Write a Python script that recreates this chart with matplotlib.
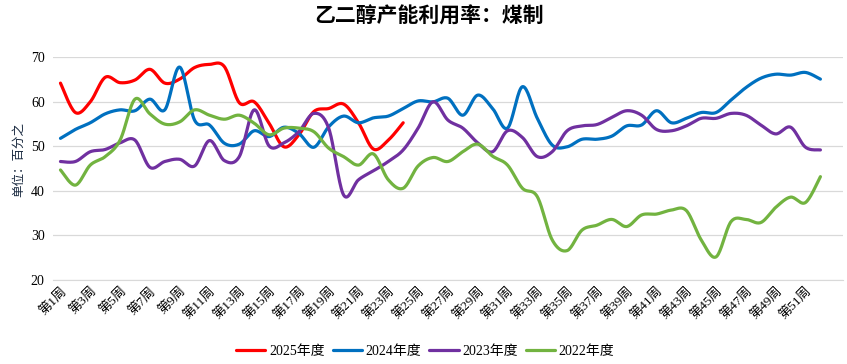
import matplotlib
matplotlib.use("Agg")
import matplotlib.pyplot as plt
import numpy as np

plt.rcParams['font.family'] = ['Liberation Serif', 'Noto Sans CJK SC']

weeks = list(range(1, 53))
week_labels = ['第%d周' % w for w in weeks]

y2025 = [64.2, 57.6, 60.0, 65.5, 64.3, 64.9, 67.3, 64.2, 65.1, 67.7, 68.4, 67.9,
         59.8, 60.0, 55.2, 49.9, 52.6, 57.8, 58.5, 59.5, 55.3, 49.4, 51.4, 55.3]
y2024 = [51.8, 53.8, 55.3, 57.3, 58.2, 58.0, 60.6, 58.2, 67.8, 55.9, 54.8, 50.7,
         50.5, 53.5, 52.2, 54.3, 52.9, 49.8, 54.4, 56.8, 55.3, 56.4, 56.8, 58.5,
         60.2, 60.0, 60.8, 57.0, 61.5, 58.5, 54.1, 63.4, 56.3, 50.3, 49.9, 51.6,
         51.6, 52.3, 54.6, 54.8, 58.0, 55.3, 56.3, 57.6, 57.6, 60.4, 63.2, 65.3,
         66.2, 66.0, 66.6, 65.1]
y2023 = [46.6, 46.6, 48.8, 49.3, 50.8, 51.4, 45.3, 46.6, 47.1, 45.6, 51.3, 46.8,
         47.7, 58.2, 50.1, 50.8, 53.3, 57.4, 54.1, 39.1, 42.5, 44.5, 46.6, 49.2,
         54.1, 60.0, 55.9, 54.1, 50.8, 48.8, 53.5, 52.0, 47.7, 48.8, 53.5, 54.6,
         54.9, 56.5, 58.0, 57.0, 53.8, 53.5, 54.6, 56.3, 56.3, 57.4, 57.0, 54.8,
         52.8, 54.3, 49.8, 49.2]
y2022 = [44.7, 41.3, 45.8, 47.7, 51.4, 60.6, 57.3, 55.0, 55.5, 58.2, 57.0, 56.1,
         57.0, 55.2, 52.6, 54.1, 54.1, 53.3, 49.6, 47.7, 45.8, 48.3, 42.5, 40.6,
         45.6, 47.5, 46.6, 48.8, 50.5, 47.8, 45.8, 40.6, 38.7, 29.0, 26.6, 31.2,
         32.3, 33.6, 32.0, 34.6, 34.8, 35.7, 35.6, 29.0, 25.2, 33.1, 33.6, 32.9,
         36.3, 38.6, 37.4, 43.2]

series = [('2025年度', y2025, '#FF0000'),
          ('2024年度', y2024, '#0070C0'),
          ('2023年度', y2023, '#7030A0'),
          ('2022年度', y2022, '#72B340')]


def smooth(xs, ys, n=20):
    # excel-like smoothed line (catmull-rom as cubic bezier)
    xs = np.asarray(xs, float)
    ys = np.asarray(ys, float)
    px = np.concatenate([[xs[0]], xs, [xs[-1]]])
    py = np.concatenate([[ys[0]], ys, [ys[-1]]])
    t = np.linspace(0, 1, n)
    outx, outy = [], []
    for i in range(1, len(px) - 2):
        x0, x1, x2, x3 = px[i - 1], px[i], px[i + 1], px[i + 2]
        y0, y1, y2, y3 = py[i - 1], py[i], py[i + 1], py[i + 2]
        cx1, cy1 = x1 + (x2 - x0) / 6, y1 + (y2 - y0) / 6
        cx2, cy2 = x2 - (x3 - x1) / 6, y2 - (y3 - y1) / 6
        b0 = (1 - t) ** 3
        b1 = 3 * (1 - t) ** 2 * t
        b2 = 3 * (1 - t) * t ** 2
        b3 = t ** 3
        outx.append(b0 * x1 + b1 * cx1 + b2 * cx2 + b3 * x2)
        outy.append(b0 * y1 + b1 * cy1 + b2 * cy2 + b3 * y2)
    return np.concatenate(outx), np.concatenate(outy)


fig = plt.figure(figsize=(8.47, 3.64), dpi=100)
ax = fig.add_axes([0.0626, 0.2308, 0.9324, 0.6118])

for name, vals, col in series:
    sx, sy = smooth(weeks[:len(vals)], vals)
    ax.plot(sx, sy, color=col, lw=2.3, label=name, solid_capstyle='round')

ax.set_xlim(0.5, 53.5)
ax.set_ylim(20, 70)
ax.set_yticks([20, 30, 40, 50, 60, 70])
ax.yaxis.grid(True, color='#d9d9d9', lw=0.9)
ax.set_axisbelow(True)
for s in ['top', 'right', 'left']:
    ax.spines[s].set_visible(False)
ax.spines['bottom'].set_color('#d9d9d9')
ax.tick_params(axis='both', length=0)
ax.tick_params(axis='y', pad=6, labelsize=10)

ax.set_xticks(weeks[::2])
ax.set_xticklabels(week_labels[::2], rotation=45, ha='right',
                   rotation_mode='anchor', fontsize=9.5)

ax.set_ylabel('单位：百分之', fontsize=9, color='#1a2a40')
ax.yaxis.set_label_coords(-0.035, 0.54)

fig.text(0.507, 0.955, '乙二醇产能利用率：煤制', ha='center', va='center',
         fontsize=15, fontweight='bold', family=['Noto Sans CJK SC'])

fig.legend(loc='center', bbox_to_anchor=(0.502, 0.035), ncol=4, frameon=False,
           fontsize=10, handlelength=2.1, columnspacing=0.6, handletextpad=0.25)

fig.savefig('out.png', dpi=100)
